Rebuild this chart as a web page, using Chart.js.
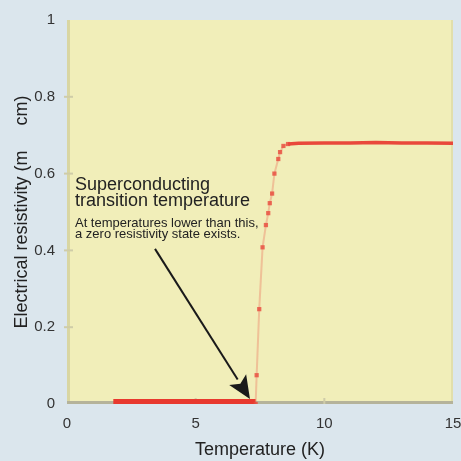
<!DOCTYPE html>
<html>
<head>
<meta charset="utf-8">
<script src="https://cdn.jsdelivr.net/npm/chart.js@4/dist/chart.umd.min.js"></script>
<style>
  body { margin: 0; background: #dbe6ed; }
  #wrap { width: 461px; height: 461px; }
</style>
</head>
<body>
<div id="wrap"><canvas id="myChart" width="461" height="461"></canvas></div>
<script>
// zero-resistance run below Tc
const lowTemp = [1.8, 2.5, 3.0, 3.5, 4.0, 4.5, 5.0, 5.5, 6.0, 6.5, 7.0, 7.33];
const lowRes  = [0, 0, 0, 0, 0, 0, 0, 0, 0, 0, 0, 0];
// transition points
const transTemp = [7.33, 7.37, 7.47, 7.60, 7.73, 7.82, 7.88, 7.97, 8.06, 8.21, 8.28, 8.41, 8.59];
const transRes  = [0, 0.075, 0.247, 0.408, 0.466, 0.497, 0.523, 0.548, 0.600, 0.638, 0.656, 0.672, 0.677];
// normal state plateau
const highTemp = [8.59, 9, 10, 11, 12, 13, 14, 15];
const highRes  = [0.677, 0.679, 0.68, 0.68, 0.681, 0.68, 0.68, 0.679];

const xTicks = [0, 5, 10, 15];
const yTicks = [0, 0.2, 0.4, 0.6, 0.8, 1];

const FONT = '"Liberation Sans", Arial, sans-serif';

const toPts = (xs, ys) => xs.map((x, i) => ({ x: x, y: ys[i] }));

// backdrop, plot frame and inward ticks
const frame = {
    id: 'frame',
    beforeDraw(chart) {
        const ctx = chart.ctx;
        const a = chart.chartArea;
        ctx.save();
        ctx.fillStyle = '#dbe6ed';
        ctx.fillRect(0, 0, chart.width, chart.height);
        ctx.fillStyle = '#f1eeb9';
        ctx.fillRect(a.left, a.top, a.right - a.left, a.bottom - a.top);
        // soft edges
        ctx.fillStyle = '#d9d6a2';
        ctx.fillRect(a.left, a.top, 3, a.bottom - a.top);
        ctx.fillStyle = '#e2dfaa';
        ctx.fillRect(a.right - 2, a.top, 2, a.bottom - a.top);
        ctx.fillStyle = '#b5b39a';
        ctx.fillRect(a.left, a.bottom - 3, a.right - a.left, 3);
        // small inward tick marks
        ctx.strokeStyle = '#cfcca8';
        ctx.lineWidth = 2;
        const xs = chart.scales.x, ys = chart.scales.y;
        yTicks.slice(1, -1).forEach(v => {
            const py = ys.getPixelForValue(v);
            ctx.beginPath(); ctx.moveTo(a.left - 3, py); ctx.lineTo(a.left + 6, py); ctx.stroke();
        });
        xTicks.slice(1, -1).forEach(v => {
            const px = xs.getPixelForValue(v);
            ctx.beginPath(); ctx.moveTo(px, a.bottom); ctx.lineTo(px, a.bottom - 6); ctx.stroke();
        });
        ctx.restore();
    }
};

// label + arrow, anchored in data units
const noteAt = { x: 0.31, y: 0.557 };
const arrowFrom = { x: 3.42, y: 0.404 };
const arrowTo = { x: 7.11, y: 0.013 };

const note = {
    id: 'note',
    afterDatasetsDraw(chart) {
        const ctx = chart.ctx;
        const xs = chart.scales.x, ys = chart.scales.y;
        const tx = xs.getPixelForValue(noteAt.x);
        const ty = ys.getPixelForValue(noteAt.y);
        ctx.save();
        ctx.fillStyle = '#222';
        ctx.textAlign = 'left';
        ctx.textBaseline = 'alphabetic';
        ctx.font = '18px ' + FONT;
        ctx.fillText('Superconducting', tx, ty);
        ctx.fillText('transition temperature', tx, ty + 16);
        ctx.font = '13px ' + FONT;
        ctx.fillText('At temperatures lower than this,', tx, ty + 37);
        ctx.fillText('a zero resistivity state exists.', tx, ty + 48);

        const x1 = xs.getPixelForValue(arrowFrom.x), y1 = ys.getPixelForValue(arrowFrom.y);
        const x2 = xs.getPixelForValue(arrowTo.x), y2 = ys.getPixelForValue(arrowTo.y);
        const ang = Math.atan2(y2 - y1, x2 - x1);
        const headLen = 23, headW = 10;
        const bx = x2 - headLen * Math.cos(ang), by = y2 - headLen * Math.sin(ang);
        ctx.strokeStyle = '#1a1a1a';
        ctx.lineWidth = 2;
        ctx.beginPath(); ctx.moveTo(x1, y1); ctx.lineTo(bx, by); ctx.stroke();
        ctx.fillStyle = '#1a1a1a';
        ctx.beginPath();
        ctx.moveTo(x2, y2);
        ctx.lineTo(bx + headW * Math.sin(ang), by - headW * Math.cos(ang));
        ctx.lineTo(bx + 5 * Math.cos(ang), by + 5 * Math.sin(ang));
        ctx.lineTo(bx - headW * Math.sin(ang), by + headW * Math.cos(ang));
        ctx.closePath();
        ctx.fill();
        ctx.restore();
    }
};

new Chart(document.getElementById('myChart').getContext('2d'), {
    type: 'scatter',
    data: {
        datasets: [
            {
                label: 'transition',
                data: toPts(transTemp, transRes),
                showLine: true,
                borderColor: 'rgba(234, 110, 90, 0.35)',
                borderWidth: 2,
                pointStyle: 'rect',
                pointRadius: 3,
                pointBackgroundColor: 'rgba(232, 72, 60, 0.8)',
                pointBorderWidth: 0
            },
            {
                label: 'below Tc',
                data: toPts(lowTemp, lowRes),
                showLine: true,
                borderColor: '#e8392e',
                borderWidth: 10,
                pointRadius: 0,
                clip: 0
            },
            {
                label: 'above Tc',
                data: toPts(highTemp, highRes),
                showLine: true,
                borderColor: '#e9483b',
                borderWidth: 3.5,
                pointRadius: 0
            }
        ]
    },
    options: {
        responsive: false,
        animation: false,
        layout: { padding: { top: 20, right: 0, bottom: 0, left: 0 } },
        plugins: { legend: { display: false }, tooltip: { enabled: false } },
        scales: {
            x: {
                type: 'linear',
                min: 0, max: 15,
                afterBuildTicks: s => { s.ticks = xTicks.map(v => ({ value: v })); },
                afterFit: s => { s.height = 57; s.paddingRight = 8; s.paddingLeft = 0; },
                grid: { display: false },
                border: { display: false },
                ticks: { color: '#333', padding: 3, font: { family: FONT, size: 15 }, maxRotation: 0 },
                title: {
                    display: true,
                    text: 'Temperature (K)',
                    color: '#222',
                    font: { family: FONT, size: 18 },
                    padding: { top: 0, bottom: 0 }
                }
            },
            y: {
                min: 0, max: 1,
                afterBuildTicks: s => { s.ticks = yTicks.map(v => ({ value: v })); },
                afterFit: s => { s.width = 67; },
                grid: { display: false },
                border: { display: false },
                ticks: {
                    color: '#333', padding: 4, font: { family: FONT, size: 15 },
                    callback: v => String(v)
                },
                title: {
                    display: true,
                    text: 'Electrical resistivity (m     cm)',
                    color: '#222',
                    font: { family: FONT, size: 18 },
                    padding: { top: 11, bottom: 0 }
                }
            }
        }
    },
    plugins: [frame, note]
});
</script>
</body>
</html>
